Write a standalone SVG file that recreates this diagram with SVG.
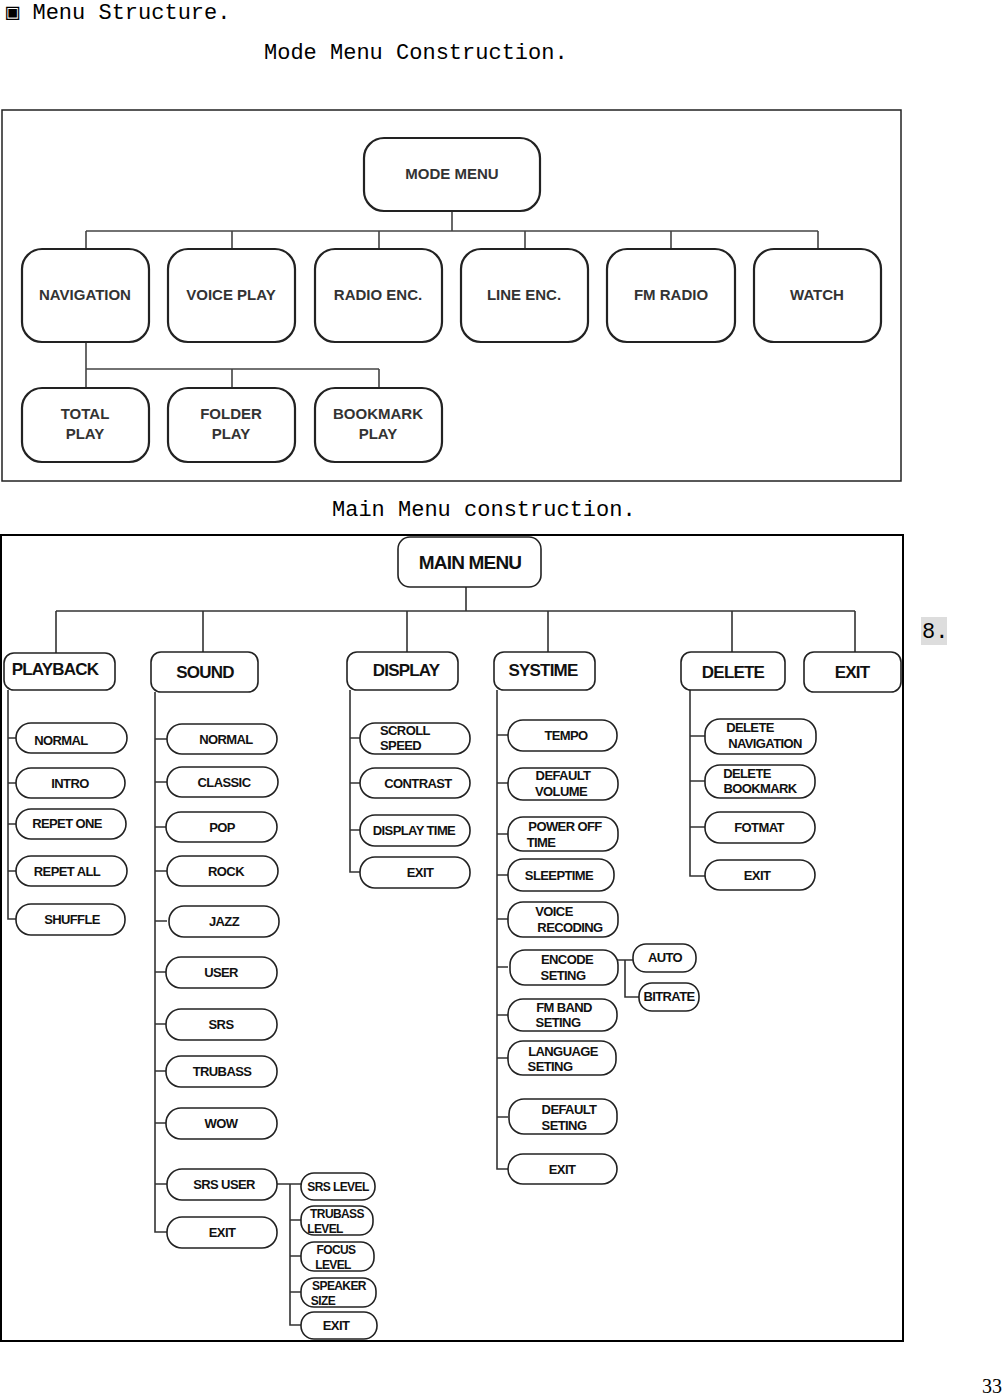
<svg xmlns="http://www.w3.org/2000/svg" width="1004" height="1396" viewBox="0 0 1004 1396">
<style>
.t{font-family:"Liberation Mono","DejaVu Sans Mono",monospace;font-size:22px;fill:#000}
.m{fill:#fff;stroke:#222;stroke-width:2.2}
.mt{font-family:"Liberation Sans",Arial,sans-serif;font-weight:bold;font-size:15px;fill:#333;text-anchor:middle}
.p{fill:#fff;stroke:#222;stroke-width:1.6}
.pt{font-family:"Liberation Sans",Arial,sans-serif;font-weight:bold;font-size:13px;fill:#111;text-anchor:middle;letter-spacing:-0.6px}
.ht{font-family:"Liberation Sans",Arial,sans-serif;font-weight:bold;font-size:17px;fill:#111;text-anchor:middle;letter-spacing:-0.8px}
.c{fill:none;stroke:#444;stroke-width:1.6}
.c2{fill:none;stroke:#333;stroke-width:1.6}
</style>
<rect width="1004" height="1396" fill="#fff"/>
<text class="t" x="6" y="19">▣ Menu Structure.</text>
<text class="t" x="264" y="59">Mode Menu Construction.</text>
<text class="t" x="332" y="516">Main Menu construction.</text>
<rect x="921" y="617" width="26" height="28" fill="#ddd"/>
<text class="t" x="922" y="638">8.</text>
<text x="1002" y="1393" text-anchor="end" style="font-family:'Liberation Serif',serif;font-size:20px">33</text>
<rect x="2" y="110" width="899" height="371" fill="none" stroke="#222" stroke-width="1.5"/>
<rect x="1" y="535" width="902" height="806" fill="none" stroke="#000" stroke-width="2"/>
<g id="connectors">
<path class="c" d="M452 211V231M86 231H818M86 231V249M232 231V249M379 231V249M525 231V249M671 231V249M818 231V249M86 342V369H379M232 369V388M379 369V388M86 369V388"/>
<path class="c2" d="M466 587V611M56 611H855M56 611V653M203 611V652M407 611V652M548 611V652M732 611V652M855 611V652"/>
<path class="c2" d="M8 690V919H16M8 738H16M8 783H16M8 824H16M8 871H16"/>
<path class="c2" d="M155 692V1232H167M155 739H167M155 782H167M155 827H167M155 871H167M155 921H167M155 972H167M155 1024H167M155 1071H167M155 1123H167M155 1184H167"/>
<path class="c2" d="M277 1184H301M290 1184V1325H301M290 1220H301M290 1256H301M290 1292H301"/>
<path class="c2" d="M350 690V872H360M350 738H360M350 783H360M350 830H360"/>
<path class="c2" d="M497 690V1169H508M497 735H508M497 783H508M497 834H508M497 875H508M497 919H508M497 967H508M497 1015H508M497 1058H508M497 1117H508"/>
<path class="c2" d="M617 960H633M625 960V997H639"/>
<path class="c2" d="M690 690V876H705M690 736H705M690 781H705M690 827H705"/>
</g>
<g id="mode-menu"><rect class="m" x="364" y="138" width="176" height="73" rx="20"/><text class="mt" x="452" y="179">MODE MENU</text></g>
<g id="navigation"><rect class="m" x="22" y="249" width="127" height="93" rx="20"/><text class="mt" x="85" y="300">NAVIGATION</text></g>
<g id="voice-play"><rect class="m" x="168" y="249" width="127" height="93" rx="20"/><text class="mt" x="231" y="300">VOICE PLAY</text></g>
<g id="radio-enc"><rect class="m" x="315" y="249" width="127" height="93" rx="20"/><text class="mt" x="378" y="300">RADIO ENC.</text></g>
<g id="line-enc"><rect class="m" x="461" y="249" width="127" height="93" rx="20"/><text class="mt" x="524" y="300">LINE ENC.</text></g>
<g id="fm-radio"><rect class="m" x="607" y="249" width="128" height="93" rx="20"/><text class="mt" x="671" y="300">FM RADIO</text></g>
<g id="watch"><rect class="m" x="754" y="249" width="127" height="93" rx="20"/><text class="mt" x="817" y="300">WATCH</text></g>
<g id="total-play"><rect class="m" x="22" y="388" width="127" height="74" rx="20"/><text class="mt" x="85" y="419">TOTAL</text><text class="mt" x="85" y="439">PLAY</text></g>
<g id="folder-play"><rect class="m" x="168" y="388" width="127" height="74" rx="20"/><text class="mt" x="231" y="419">FOLDER</text><text class="mt" x="231" y="439">PLAY</text></g>
<g id="bookmark-play"><rect class="m" x="315" y="388" width="127" height="74" rx="20"/><text class="mt" x="378" y="419">BOOKMARK</text><text class="mt" x="378" y="439">PLAY</text></g>

<g id="main-menu"><rect class="p" x="398" y="537" width="143" height="50" rx="12"/><text class="ht" x="470" y="569" style="font-size:19px">MAIN MENU</text></g>
<g id="playback"><rect class="p" x="4" y="653" width="111" height="37" rx="10"/><text class="ht" x="55" y="675">PLAYBACK</text></g>
<g id="sound"><rect class="p" x="151" y="652" width="107" height="40" rx="10"/><text class="ht" x="205" y="678">SOUND</text></g>
<g id="display"><rect class="p" x="347" y="652" width="111" height="38" rx="10"/><text class="ht" x="406" y="676">DISPLAY</text></g>
<g id="systime"><rect class="p" x="494" y="652" width="101" height="38" rx="10"/><text class="ht" x="543" y="676">SYSTIME</text></g>
<g id="delete"><rect class="p" x="681" y="652" width="104" height="38" rx="10"/><text class="ht" x="733" y="678">DELETE</text></g>
<g id="exit-main"><rect class="p" x="804" y="652" width="97" height="40" rx="10"/><text class="ht" x="852" y="678">EXIT</text></g>

<g id="pb-normal"><rect class="p" x="16" y="723" width="111" height="30" rx="15"/><text class="pt" x="61" y="745">NORMAL</text></g>
<g id="pb-intro"><rect class="p" x="16" y="768" width="109" height="30" rx="15"/><text class="pt" x="70" y="788">INTRO</text></g>
<g id="pb-repet-one"><rect class="p" x="16" y="809" width="110" height="30" rx="15"/><text class="pt" x="67" y="828">REPET ONE</text></g>
<g id="pb-repet-all"><rect class="p" x="16" y="856" width="111" height="30" rx="15"/><text class="pt" x="67" y="876">REPET ALL</text></g>
<g id="pb-shuffle"><rect class="p" x="16" y="904" width="109" height="31" rx="15"/><text class="pt" x="72" y="924">SHUFFLE</text></g>

<g id="s-normal"><rect class="p" x="167" y="724" width="110" height="30" rx="15"/><text class="pt" x="226" y="744">NORMAL</text></g>
<g id="s-classic"><rect class="p" x="167" y="767" width="111" height="30" rx="15"/><text class="pt" x="224" y="787">CLASSIC</text></g>
<g id="s-pop"><rect class="p" x="166" y="812" width="111" height="30" rx="15"/><text class="pt" x="222" y="832">POP</text></g>
<g id="s-rock"><rect class="p" x="167" y="856" width="111" height="30" rx="15"/><text class="pt" x="226" y="876">ROCK</text></g>
<g id="s-jazz"><rect class="p" x="169" y="906" width="110" height="31" rx="15"/><text class="pt" x="224" y="926">JAZZ</text></g>
<g id="s-user"><rect class="p" x="166" y="957" width="111" height="31" rx="15"/><text class="pt" x="221" y="977">USER</text></g>
<g id="s-srs"><rect class="p" x="166" y="1009" width="111" height="31" rx="15"/><text class="pt" x="221" y="1029">SRS</text></g>
<g id="s-trubass"><rect class="p" x="166" y="1056" width="111" height="31" rx="15"/><text class="pt" x="222" y="1076">TRUBASS</text></g>
<g id="s-wow"><rect class="p" x="166" y="1108" width="111" height="31" rx="15"/><text class="pt" x="221" y="1128">WOW</text></g>
<g id="s-srs-user"><rect class="p" x="167" y="1169" width="110" height="31" rx="15"/><text class="pt" x="224" y="1189">SRS USER</text></g>
<g id="s-exit"><rect class="p" x="167" y="1217" width="110" height="31" rx="15"/><text class="pt" x="222" y="1237">EXIT</text></g>

<g id="srs-level"><rect class="p" x="301" y="1173" width="74" height="27" rx="13"/><text class="pt" x="338" y="1191" style="font-size:12px">SRS LEVEL</text></g>
<g id="trubass-level"><rect class="p" x="301" y="1206" width="72" height="29" rx="13"/><text class="pt" x="337" y="1218" style="font-size:12px">TRUBASS</text><text class="pt" x="325" y="1233" style="font-size:12px">LEVEL</text></g>
<g id="focus-level"><rect class="p" x="301" y="1242" width="73" height="29" rx="13"/><text class="pt" x="336" y="1254" style="font-size:12px">FOCUS</text><text class="pt" x="333" y="1269" style="font-size:12px">LEVEL</text></g>
<g id="speaker-size"><rect class="p" x="301" y="1278" width="75" height="29" rx="13"/><text class="pt" x="339" y="1290" style="font-size:12px">SPEAKER</text><text class="pt" x="323" y="1305" style="font-size:12px">SIZE</text></g>
<g id="srs-exit"><rect class="p" x="301" y="1312" width="76" height="27" rx="13"/><text class="pt" x="336" y="1330">EXIT</text></g>

<g id="d-scroll"><rect class="p" x="360" y="723" width="110" height="31" rx="15"/><text class="pt" x="407" y="735" style="text-anchor:start" transform="translate(-27 0)">SCROLL</text><text class="pt" x="380" y="750" style="text-anchor:start">SPEED</text></g>
<g id="d-contrast"><rect class="p" x="360" y="768" width="110" height="30" rx="15"/><text class="pt" x="418" y="788">CONTRAST</text></g>
<g id="d-display-time"><rect class="p" x="360" y="815" width="110" height="31" rx="15"/><text class="pt" x="414" y="835">DISPLAY TIME</text></g>
<g id="d-exit"><rect class="p" x="360" y="857" width="110" height="31" rx="15"/><text class="pt" x="420" y="877">EXIT</text></g>

<g id="y-tempo"><rect class="p" x="508" y="720" width="109" height="31" rx="15"/><text class="pt" x="566" y="740">TEMPO</text></g>
<g id="y-default-volume"><rect class="p" x="508" y="768" width="110" height="32" rx="15"/><text class="pt" x="563" y="780">DEFAULT</text><text class="pt" x="561" y="796">VOLUME</text></g>
<g id="y-power-off"><rect class="p" x="508" y="817" width="110" height="34" rx="15"/><text class="pt" x="565" y="831">POWER OFF</text><text class="pt" x="541" y="847">TIME</text></g>
<g id="y-sleeptime"><rect class="p" x="508" y="859" width="106" height="32" rx="15"/><text class="pt" x="559" y="880">SLEEPTIME</text></g>
<g id="y-voice-rec"><rect class="p" x="508" y="902" width="110" height="35" rx="15"/><text class="pt" x="554" y="916">VOICE</text><text class="pt" x="570" y="932">RECODING</text></g>
<g id="y-encode"><rect class="p" x="510" y="950" width="108" height="35" rx="15"/><text class="pt" x="567" y="964">ENCODE</text><text class="pt" x="563" y="980">SETING</text></g>
<g id="y-fm-band"><rect class="p" x="508" y="999" width="109" height="32" rx="15"/><text class="pt" x="564" y="1012">FM BAND</text><text class="pt" x="558" y="1027">SETING</text></g>
<g id="y-language"><rect class="p" x="508" y="1041" width="108" height="34" rx="15"/><text class="pt" x="563" y="1056">LANGUAGE</text><text class="pt" x="550" y="1071">SETING</text></g>
<g id="y-default-set"><rect class="p" x="509" y="1099" width="108" height="35" rx="15"/><text class="pt" x="569" y="1114">DEFAULT</text><text class="pt" x="564" y="1130">SETING</text></g>
<g id="y-exit"><rect class="p" x="508" y="1154" width="109" height="30" rx="15"/><text class="pt" x="562" y="1174">EXIT</text></g>
<g id="auto"><rect class="p" x="633" y="944" width="63" height="28" rx="13"/><text class="pt" x="665" y="962">AUTO</text></g>
<g id="bitrate"><rect class="p" x="639" y="983" width="60" height="28" rx="13"/><text class="pt" x="669" y="1001">BITRATE</text></g>

<g id="del-navigation"><rect class="p" x="705" y="719" width="111" height="35" rx="15"/><text class="pt" x="750" y="732">DELETE</text><text class="pt" x="765" y="748">NAVIGATION</text></g>
<g id="del-bookmark"><rect class="p" x="705" y="765" width="110" height="33" rx="15"/><text class="pt" x="747" y="778">DELETE</text><text class="pt" x="760" y="793">BOOKMARK</text></g>
<g id="fotmat"><rect class="p" x="705" y="812" width="110" height="31" rx="15"/><text class="pt" x="759" y="832">FOTMAT</text></g>
<g id="del-exit"><rect class="p" x="705" y="860" width="110" height="30" rx="15"/><text class="pt" x="757" y="880">EXIT</text></g>
</svg>
